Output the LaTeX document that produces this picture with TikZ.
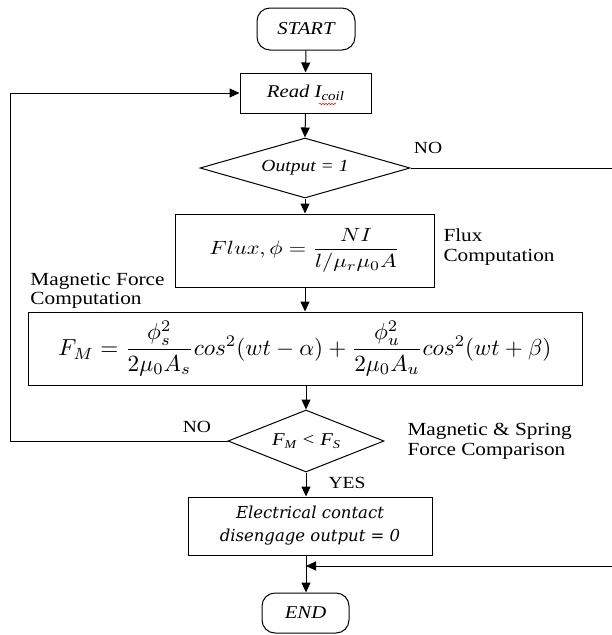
\documentclass[tikz,border=0pt]{standalone}
\usepackage{amsmath}
\usepackage{graphicx}
\usepackage{fontspec}
\setmainfont{Liberation Serif}[FakeStretch=1.15]
\newfontfamily\elecfont{DejaVu Serif}
\usetikzlibrary{shapes.geometric,arrows.meta,decorations.pathmorphing}
\begin{document}
\begin{tikzpicture}[x=1pt,y=-1pt,line width=1pt,
  arr/.style={-{Triangle[length=10pt,width=9pt]}},
  box/.style={draw,rectangle,inner sep=0pt,align=center},
  term/.style={draw,rectangle,rounded corners=13pt,inner sep=0pt},
  dec/.style={draw,diamond,inner sep=0pt},
  lbl/.style={align=left,inner sep=0pt,font=\fontsize{18.5}{20}\selectfont},
  small/.style={inner sep=0pt,font=\fontsize{17}{20}\selectfont},
  btxt/.style={font=\fontsize{18}{22}\selectfont\itshape}]
\useasboundingbox (0,0) rectangle (611,635);
\fill[white] (0,0) rectangle (611,635);

\node[term,btxt,minimum width=98pt,minimum height=42pt] (start) at (306,29) {START};
\node[box,btxt,minimum width=131pt,minimum height=40pt] (read) at (305.5,93) {Read I\raisebox{-0.4ex}{\fontsize{13}{14}\selectfont coil}};
\node[dec,btxt,aspect=3.5,minimum width=210pt,minimum height=60pt,font=\fontsize{17}{20}\selectfont\itshape] (dec1) at (305,168) {Output = 1};
\node[box,minimum width=259pt,minimum height=73pt] (flux) at (304.5,250.5)
  {\resizebox*{190pt}{44pt}{$\displaystyle Flux,\phi=\frac{NI}{l/\mu_r\mu_0A}$}};
\node[box,minimum width=554pt,minimum height=73pt] (fm) at (305,348.5)
  {\resizebox*{493pt}{55pt}{$\displaystyle F_M=\frac{\phi_s^2}{2\mu_0A_s}cos^2(wt-\alpha)+\frac{\phi_u^2}{2\mu_0A_u}cos^2(wt+\beta)$}};
\node[dec,btxt,aspect=2.5,minimum width=156pt,minimum height=62pt] (dec2) at (306,441)
  {F\raisebox{-0.3ex}{\fontsize{12}{13}\selectfont M} < F\raisebox{-0.3ex}{\fontsize{12}{13}\selectfont S}};
\node[box,minimum width=244pt,minimum height=58pt,font=\elecfont\itshape\fontsize{16.5}{23}\selectfont] (elec) at (310,526) {Electrical contact\\disengage output = 0};
\node[term,btxt,minimum width=87pt,minimum height=40pt] (end) at (305.5,613) {END};

% labels
\node[small] (no1) at (428,148) {NO};
\node[small] (no2) at (197,427) {NO};
\node[small] (yes) at (347,483) {YES};
\node[lbl,anchor=west] (lflux) at (443,247) {Flux\\Computation};
\node[lbl,anchor=west,font=\fontsize{18.5}{18.5}\selectfont] (lmag) at (30,291) {Magnetic Force\\Computation};
\node[lbl,anchor=west] (lcmp) at (407,441) {Magnetic \& Spring\\Force Comparison};

% spelling squiggle
\draw[red,line width=0.5pt,decorate,decoration={snake,amplitude=0.8pt,segment length=3pt}] (319,104) -- (336,104);

% coordinates for loops
\coordinate (j) at (306,566);
\coordinate (r) at (618,0);
\coordinate (l) at (10,0);

% connectors
\draw[arr] (start.south) -- (read.north);
\draw[arr] (read.south) -- (dec1.north);
\draw[arr] (dec1.south) -- (dec1.south |- flux.north);
\draw[arr] (dec1.south |- flux.south) -- (dec1.south |- fm.north);
\draw[arr] (dec2.north |- fm.south) -- (dec2.north);
\draw[arr] (dec2.south) -- (dec2.south |- elec.north);
\draw[arr] (dec2.south |- elec.south) -- (dec2.south |- end.north);
\draw[arr] (dec1.east) -| (r |- j) -- (j);
\draw[arr] (dec2.west) -| (l |- read.west) -- (read.west);
\end{tikzpicture}
\end{document}
